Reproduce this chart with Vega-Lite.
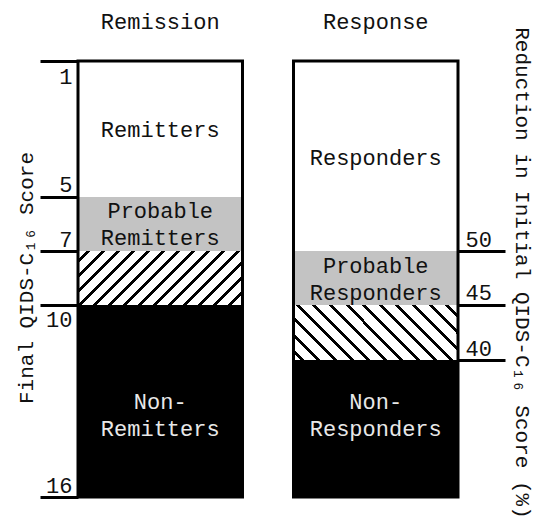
{
  "$schema": "https://vega.github.io/schema/vega-lite/v6.json",
  "width": 380,
  "height": 436,
  "autosize": {"type": "none"},
  "padding": {"left": 78, "top": 61, "right": 75, "bottom": 28},
  "background": "white",
  "config": {"view": {"stroke": null}, "font": "Liberation Mono"},
  "datasets": {
    "segments": [
      {"bar": "Remission", "kind": "clear", "start": 0, "end": 31.19, "label": "Remitters", "ly": 15.8},
      {"bar": "Remission", "kind": "probable", "start": 31.19, "end": 43.58, "label": ["Probable", "Remitters"], "ly": 37.6},
      {"bar": "Remission", "kind": "uncertain", "start": 43.58, "end": 55.96},
      {"bar": "Remission", "kind": "non", "start": 55.96, "end": 100, "label": ["Non-", "Remitters"], "ly": 81.4},
      {"bar": "Response", "kind": "clear", "start": 0, "end": 43.58, "label": "Responders", "ly": 22.3},
      {"bar": "Response", "kind": "probable", "start": 43.58, "end": 55.96, "label": ["Probable", "Responders"], "ly": 50.2},
      {"bar": "Response", "kind": "uncertain", "start": 55.96, "end": 68.58},
      {"bar": "Response", "kind": "non", "start": 68.58, "end": 100, "label": ["Non-", "Responders"], "ly": 81.4}
    ]
  },
  "data": {"name": "segments"},
  "resolve": {"axis": {"y": "independent"}},
  "encoding": {
    "x": {
      "field": "bar", "type": "nominal",
      "scale": {"domain": ["Remission", "Response"], "paddingInner": 0.2367, "paddingOuter": 0},
      "axis": {
        "orient": "top", "title": null, "domain": false, "ticks": false,
        "labelAngle": 0, "labelFontSize": 22, "labelColor": "#111", "labelBaseline": "alphabetic", "labelPadding": 33
      }
    }
  },
  "layer": [
    {
      "transform": [{"filter": "datum.kind != 'uncertain'"}],
      "mark": {"type": "rect", "strokeWidth": 0},
      "encoding": {
        "y": {
          "field": "start", "type": "quantitative",
          "scale": {"domain": [0, 100], "reverse": true, "nice": false, "zero": false},
          "axis": {
            "orient": "left",
            "values": [0, 31.19, 43.58, 55.96, 100],
            "labelExpr": "datum.value == 0 ? '1' : datum.value < 32 ? '5' : datum.value < 44 ? '7' : datum.value < 57 ? '10' : '16'",
            "domain": false, "grid": false,
            "tickSize": 38, "tickWidth": 3, "tickColor": "black",
            "labelPadding": -32, "labelFontSize": 22, "labelColor": "#111",
            "labelOverlap": false, "labelBound": false, "labelFlush": false,
            "labelOffset": {"condition": {"test": "datum.value == 0 || (datum.value > 55 && datum.value < 57)", "value": 15}, "value": -12},
            "title": "Final QIDS-C₁₆ Score",
            "titleFontSize": 21, "titleFontWeight": "normal", "titleColor": "#111",
            "titleAngle": -90, "titleBaseline": "alphabetic", "titleAlign": "center",
            "titleX": -46, "titleY": 216.5
          }
        },
        "y2": {"field": "end"},
        "fill": {
          "field": "kind", "type": "nominal",
          "scale": {"domain": ["clear", "probable", "non"], "range": ["white", "#c3c3c3", "black"]},
          "legend": null
        }
      }
    },
    {
      "transform": [{"filter": "datum.kind == 'uncertain' && datum.bar == 'Remission'"}],
      "mark": {
        "type": "rect", "strokeWidth": 0,
        "fill": {
          "gradient": "linear", "x1": 0, "y1": 0, "x2": 1.1993, "y2": 0.3949,
          "stops": [
            {"offset": 0, "color": "white"},
            {"offset": 0.0380, "color": "white"}, {"offset": 0.0380, "color": "black"}, {"offset": 0.0564, "color": "black"}, {"offset": 0.0564, "color": "white"},
            {"offset": 0.1069, "color": "white"}, {"offset": 0.1069, "color": "black"}, {"offset": 0.1253, "color": "black"}, {"offset": 0.1253, "color": "white"},
            {"offset": 0.1757, "color": "white"}, {"offset": 0.1757, "color": "black"}, {"offset": 0.1941, "color": "black"}, {"offset": 0.1941, "color": "white"},
            {"offset": 0.2445, "color": "white"}, {"offset": 0.2445, "color": "black"}, {"offset": 0.2629, "color": "black"}, {"offset": 0.2629, "color": "white"},
            {"offset": 0.3133, "color": "white"}, {"offset": 0.3133, "color": "black"}, {"offset": 0.3317, "color": "black"}, {"offset": 0.3317, "color": "white"},
            {"offset": 0.3821, "color": "white"}, {"offset": 0.3821, "color": "black"}, {"offset": 0.4005, "color": "black"}, {"offset": 0.4005, "color": "white"},
            {"offset": 0.4509, "color": "white"}, {"offset": 0.4509, "color": "black"}, {"offset": 0.4693, "color": "black"}, {"offset": 0.4693, "color": "white"},
            {"offset": 0.5197, "color": "white"}, {"offset": 0.5197, "color": "black"}, {"offset": 0.5381, "color": "black"}, {"offset": 0.5381, "color": "white"},
            {"offset": 0.5885, "color": "white"}, {"offset": 0.5885, "color": "black"}, {"offset": 0.6069, "color": "black"}, {"offset": 0.6069, "color": "white"},
            {"offset": 0.6573, "color": "white"}, {"offset": 0.6573, "color": "black"}, {"offset": 0.6757, "color": "black"}, {"offset": 0.6757, "color": "white"},
            {"offset": 0.7261, "color": "white"}, {"offset": 0.7261, "color": "black"}, {"offset": 0.7445, "color": "black"}, {"offset": 0.7445, "color": "white"},
            {"offset": 0.7949, "color": "white"}, {"offset": 0.7949, "color": "black"}, {"offset": 0.8133, "color": "black"}, {"offset": 0.8133, "color": "white"},
            {"offset": 0.8637, "color": "white"}, {"offset": 0.8637, "color": "black"}, {"offset": 0.8821, "color": "black"}, {"offset": 0.8821, "color": "white"},
            {"offset": 0.9325, "color": "white"}, {"offset": 0.9325, "color": "black"}, {"offset": 0.9509, "color": "black"}, {"offset": 0.9509, "color": "white"},
            {"offset": 1, "color": "white"}
          ]
        }
      },
      "encoding": {
        "y": {"field": "start", "type": "quantitative", "axis": null},
        "y2": {"field": "end"}
      }
    },
    {
      "transform": [{"filter": "datum.kind == 'uncertain' && datum.bar == 'Response'"}],
      "mark": {
        "type": "rect", "strokeWidth": 0,
        "fill": {
          "gradient": "linear", "x1": 0, "y1": 1, "x2": 1.2, "y2": 0.6,
          "stops": [
            {"offset": 0, "color": "white"},
            {"offset": 0.0304, "color": "white"}, {"offset": 0.0304, "color": "black"}, {"offset": 0.0486, "color": "black"}, {"offset": 0.0486, "color": "white"},
            {"offset": 0.1064, "color": "white"}, {"offset": 0.1064, "color": "black"}, {"offset": 0.1246, "color": "black"}, {"offset": 0.1246, "color": "white"},
            {"offset": 0.1818, "color": "white"}, {"offset": 0.1818, "color": "black"}, {"offset": 0.2000, "color": "black"}, {"offset": 0.2000, "color": "white"},
            {"offset": 0.2577, "color": "white"}, {"offset": 0.2577, "color": "black"}, {"offset": 0.2759, "color": "black"}, {"offset": 0.2759, "color": "white"},
            {"offset": 0.3332, "color": "white"}, {"offset": 0.3332, "color": "black"}, {"offset": 0.3514, "color": "black"}, {"offset": 0.3514, "color": "white"},
            {"offset": 0.4091, "color": "white"}, {"offset": 0.4091, "color": "black"}, {"offset": 0.4273, "color": "black"}, {"offset": 0.4273, "color": "white"},
            {"offset": 0.4850, "color": "white"}, {"offset": 0.4850, "color": "black"}, {"offset": 0.5032, "color": "black"}, {"offset": 0.5032, "color": "white"},
            {"offset": 0.5604, "color": "white"}, {"offset": 0.5604, "color": "black"}, {"offset": 0.5786, "color": "black"}, {"offset": 0.5786, "color": "white"},
            {"offset": 0.6364, "color": "white"}, {"offset": 0.6364, "color": "black"}, {"offset": 0.6546, "color": "black"}, {"offset": 0.6546, "color": "white"},
            {"offset": 0.7123, "color": "white"}, {"offset": 0.7123, "color": "black"}, {"offset": 0.7305, "color": "black"}, {"offset": 0.7305, "color": "white"},
            {"offset": 0.7877, "color": "white"}, {"offset": 0.7877, "color": "black"}, {"offset": 0.8059, "color": "black"}, {"offset": 0.8059, "color": "white"},
            {"offset": 0.8636, "color": "white"}, {"offset": 0.8636, "color": "black"}, {"offset": 0.8818, "color": "black"}, {"offset": 0.8818, "color": "white"},
            {"offset": 0.9395, "color": "white"}, {"offset": 0.9395, "color": "black"}, {"offset": 0.9577, "color": "black"}, {"offset": 0.9577, "color": "white"},
            {"offset": 1, "color": "white"}
          ]
        }
      },
      "encoding": {
        "y": {"field": "start", "type": "quantitative", "axis": null},
        "y2": {"field": "end"}
      }
    },
    {
      "mark": {"type": "rect", "fill": null, "fillOpacity": 0, "stroke": "black", "strokeWidth": 3},
      "encoding": {
        "y": {
          "aggregate": "min", "field": "start", "type": "quantitative",
          "axis": {
            "orient": "right",
            "values": [43.58, 55.96, 68.58],
            "labelExpr": "datum.value < 50 ? '50' : datum.value < 60 ? '45' : '40'",
            "domain": false, "grid": false,
            "tickSize": 47, "tickWidth": 3, "tickColor": "black",
            "labelPadding": -40, "labelFontSize": 22, "labelColor": "#111",
            "labelOverlap": false, "labelBound": false, "labelFlush": false,
            "labelOffset": -12,
            "title": "Reduction in Initial QIDS-C₁₆ Score (%)",
            "titleFontSize": 21, "titleFontWeight": "normal", "titleColor": "#111",
            "titleAngle": 90, "titleBaseline": "alphabetic", "titleAlign": "center",
            "titleX": 57, "titleY": 211.5
          }
        },
        "y2": {"aggregate": "max", "field": "end"}
      }
    },
    {
      "transform": [{"filter": "isValid(datum.label) && !isArray(datum.label)"}],
      "mark": {"type": "text", "fontSize": 22, "baseline": "middle", "align": "center"},
      "encoding": {
        "y": {"field": "ly", "type": "quantitative", "axis": null},
        "text": {"field": "label"},
        "color": {"condition": {"test": "datum.kind == 'non'", "value": "#e8e8e8"}, "value": "#111"}
      }
    },
    {
      "transform": [{"filter": "isValid(datum.label) && isArray(datum.label)"}],
      "mark": {"type": "text", "fontSize": 22, "lineHeight": 27, "baseline": "middle", "align": "center", "dy": -13.5},
      "encoding": {
        "y": {"field": "ly", "type": "quantitative", "axis": null},
        "text": {"field": "label"},
        "color": {"condition": {"test": "datum.kind == 'non'", "value": "#e8e8e8"}, "value": "#111"}
      }
    }
  ]
}
